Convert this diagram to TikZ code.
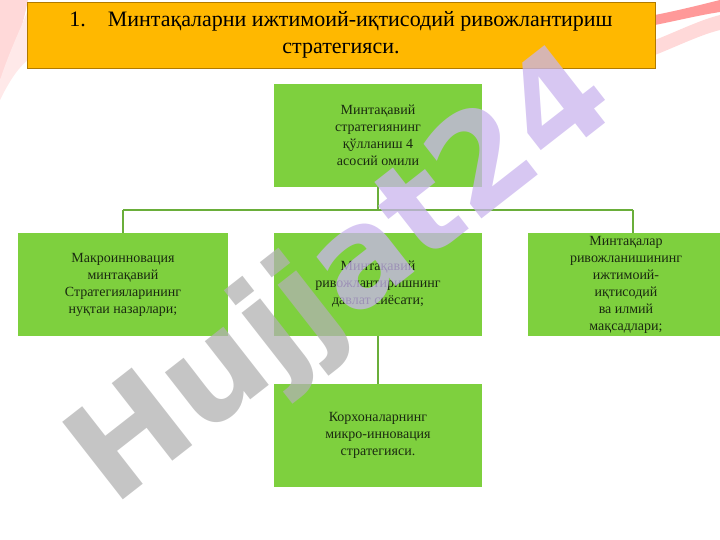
\documentclass[tikz,border=0pt]{standalone}
\usepackage{fontspec}
\setmainfont{Liberation Serif}
\newfontfamily\wm{DejaVu Sans}
\definecolor{boxg}{HTML}{7ED03E}
\definecolor{lineg}{HTML}{6AAE3A}
\definecolor{titlebg}{HTML}{FFB800}
\definecolor{titlebd}{HTML}{B07A00}
\definecolor{txt}{HTML}{1A2A10}
\definecolor{lav}{HTML}{C9B4EE}
\begin{document}
\begin{tikzpicture}[x=1pt,y=-1pt,
  gbox/.style={fill=boxg,draw=none,minimum width=208pt,minimum height=103pt,align=center,font=\fontsize{14}{17}\selectfont,text=txt,inner sep=0pt},
  conn/.style={draw=lineg,line width=1.2pt}]
\useasboundingbox (0,0) rectangle (720,540);
% corner decorations
\fill[pink!60] (0,0) -- (28,0) .. controls (20,40) and (10,60) .. (0,80) -- cycle;
\fill[pink!35] (0,80) .. controls (10,50) and (20,30) .. (28,10) -- (28,60) .. controls (15,70) and (5,90) .. (0,100) -- cycle;
\fill[pink!60] (720,15) .. controls (700,20) and (680,30) .. (655,40) -- (655,55) .. controls (680,45) and (700,35) .. (720,30) -- cycle;
\fill[red!40] (720,0) .. controls (700,5) and (680,10) .. (655,15) -- (655,25) .. controls (680,20) and (700,15) .. (720,12) -- cycle;
% title
\node[fill=titlebg,draw=titlebd,line width=0.8pt,minimum width=628pt,minimum height=66pt,align=center,font=\fontsize{22}{27}\selectfont,text=black] (title) at (341,35) {1.\hspace{1em}Минтақаларни ижтимоий-иқтисодий ривожлантириш\\стратегияси.};
% boxes
\node[gbox] (top) at (378,135.5) {Минтақавий\\стратегиянинг\\қўлланиш 4\\асосий омили};
\node[gbox,minimum width=210pt] (left) at (123,284.5) {Макроинновация\\минтақавий\\Стратегияларининг\\нуқтаи назарлари;};
\node[gbox] (mid) at (378,284.5) {\raisebox{12pt}{\begin{tabular}{c}Минтақавий\\ривожлантиришнинг\\давлат сиёсати;\end{tabular}}};
\node[gbox,minimum width=196pt] (right) at (626,284.5) {\raisebox{2pt}{\begin{tabular}{@{}c@{}}Минтақалар\\ривожланишининг\\ижтимоий-\\иқтисодий\\ва илмий\\мақсадлари;\end{tabular}}};
\node[gbox] (bot) at (378,435.5) {Корхоналарнинг\\микро-инновация\\стратегияси.};
\coordinate (hl) at (123,210);
\coordinate (hr) at (633,210);
\coordinate (hm) at (378,210);
% connectors
\draw[conn] (top.south) -- (hm);
\draw[conn] (hl) -- (hr);
\draw[conn] (hl) -- (left.north);
\draw[conn] (hr) -- (633,233);
\draw[conn] (mid.south) -- (bot.north);
% watermark
\node[rotate=38,font=\wm\bfseries\fontsize{135}{135}\selectfont,opacity=0.75] (wm) at (345,280) {\textcolor{gray!60}{Hujj}\textcolor{lav}{at24}};
\end{tikzpicture}
\end{document}
